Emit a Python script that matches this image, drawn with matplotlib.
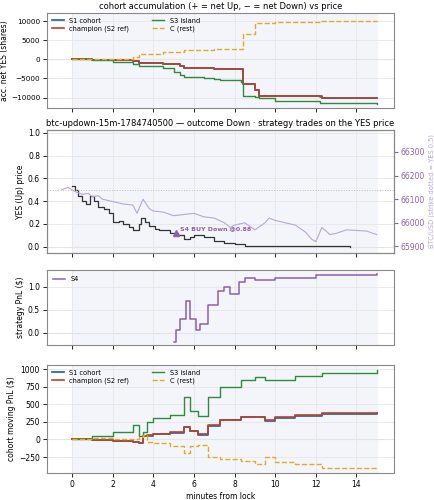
import matplotlib
matplotlib.use("Agg")
import matplotlib.pyplot as plt

# ---- data ----
acc_t = [0, 1, 2, 3, 3.3, 4.5, 5.0, 5.3, 5.5, 6.5, 7.0, 7.3, 8.3, 8.4, 9.0, 9.2, 10.0, 12.0, 12.2, 12.3, 15.0]
acc_champ = [0, -100, -200, -400, -1000, -1100, -1100, -1800, -2200, -2300, -2400, -2500, -2600, -6500, -8000, -9500, -9500, -9600, -9700, -10000, -10000]
acc_s1 = [0, -100, -200, -400, -1000, -1100, -1100, -1800, -2200, -2300, -2400, -2500, -2600, -6500, -8000, -9500, -9500, -9500, -9500, -10000, -10000]
acc_s3 = [0, -100, -600, -1200, -1700, -2200, -3200, -4000, -4700, -5000, -5200, -5500, -5800, -9500, -9800, -10000, -10800, -11000, -11500, -11500, -11700]
acc_c = [0, 0, 0, 500, 1500, 1800, 2000, 2000, 2500, 2500, 2600, 2700, 2700, 6700, 9600, 9600, 9700, 9700, 10000, 10000, 10000]

yes_t = [0, 0.15, 0.3, 0.5, 0.7, 0.9, 1.1, 1.3, 1.6, 1.8, 2.0, 2.3, 2.5, 2.8, 3.0, 3.3, 3.4, 3.6, 3.8, 4.1, 4.3, 4.8, 5.2, 5.5, 5.8, 6.0, 6.5, 7.0, 7.5, 8.0, 8.5, 10.0, 13.7]
yes_p = [0.53, 0.5, 0.45, 0.4, 0.38, 0.45, 0.4, 0.35, 0.33, 0.3, 0.22, 0.23, 0.2, 0.17, 0.15, 0.2, 0.25, 0.22, 0.18, 0.16, 0.15, 0.12, 0.1, 0.07, 0.09, 0.1, 0.09, 0.05, 0.03, 0.02, 0.01, 0.01, 0.0]

btc_t = [-0.5, -0.2, 0.2, 0.5, 0.8, 1.0, 1.3, 1.5, 2.0, 2.5, 3.0, 3.2, 3.5, 3.8, 4.0, 4.5, 5.0, 5.5, 6.0, 6.5, 7.0, 7.5, 7.8, 8.0, 8.5, 9.0, 9.5, 9.7, 10.0, 10.5, 11.0, 11.5, 11.8, 12.0, 12.3, 12.7, 13.0, 13.5, 14.5, 15.0]
btc_p = [66140, 66150, 66130, 66120, 66125, 66110, 66115, 66100, 66090, 66080, 66075, 66040, 66100, 66060, 66050, 66045, 66030, 66035, 66040, 66025, 66020, 66000, 65980, 65990, 66000, 65970, 66000, 66020, 66010, 66000, 65990, 65960, 65930, 65920, 65980, 65950, 65955, 65970, 65965, 65950]

s4_t = [5.0, 5.1, 5.3, 5.6, 5.8, 6.1, 6.3, 6.7, 7.2, 7.5, 7.8, 8.2, 8.5, 9.0, 10.0, 12.0, 15.0]
s4_p = [-0.2, 0.05, 0.3, 0.7, 0.3, 0.05, 0.2, 0.6, 0.9, 1.0, 0.85, 1.1, 1.2, 1.15, 1.2, 1.25, 1.28]

pnl_t = [0, 1, 2, 3, 3.3, 3.5, 3.7, 4.0, 4.8, 5.5, 5.8, 6.2, 6.7, 7.3, 8.3, 9.0, 9.5, 10.0, 11.0, 12.3, 15.0]
pnl_s3 = [0, 50, 100, 200, 50, 100, 250, 300, 350, 600, 400, 330, 600, 750, 850, 880, 850, 850, 900, 950, 980]
pnl_champ = [0, -10, -20, -30, -50, 50, 60, 80, 100, 180, 120, 70, 200, 280, 320, 320, 270, 320, 340, 370, 380]
pnl_s1 = [0, -10, -20, -30, -55, 45, 55, 75, 95, 175, 115, 65, 195, 275, 315, 315, 265, 310, 335, 365, 375]
pnl_c = [0, 20, 10, 0, 30, 60, -30, -50, -100, -200, -100, -80, -250, -280, -300, -350, -250, -320, -350, -400, -410]

strike_yes = 0.5
trade_t, trade_p = 5.1, 0.12

# ---- style ----
cS1, cCh, cS3, cC, cS4, cBTC = "#2459a8", "#b5452a", "#2e8b3e", "#e3a92a", "#8c5fb0", "#b9a6d6"
plt.rcParams.update({"font.size": 5.5, "axes.edgecolor": "#888888", "axes.linewidth": 0.8})
FS = 5.5

fig = plt.figure(figsize=(4.34, 5.0), dpi=100)
L, W = 47/434, 347/434
def ax_at(top, bot):
    return fig.add_axes([L, 1-bot/500, W, (bot-top)/500])
ax1 = ax_at(13, 108); ax2 = ax_at(130, 253); ax3 = ax_at(270, 345); ax4 = ax_at(365, 473)
for a in (ax1, ax2, ax3, ax4):
    a.set_xlim(-1.23, 15.85)
    a.axvspan(0, 15, color="#f3f5fb", zorder=0)
    a.grid(True, color="#e6e6e6", lw=0.6)
    a.set_axisbelow(True)
    a.axhline(0, color="#dddddd", lw=0.8, zorder=0.5)
    a.set_xticks(range(0, 15, 2))
    if a is not ax4:
        a.tick_params(labelbottom=False)
    a.tick_params(length=3, width=0.6, labelsize=FS, pad=2)

# panel 1
ax1.step(acc_t, acc_s1, where="post", color=cS1, lw=1.2, label="S1 cohort")
ax1.step(acc_t, acc_champ, where="post", color=cCh, lw=1.2, label="champion (S2 ref)")
ax1.step(acc_t, acc_s3, where="post", color=cS3, lw=1.0, label="S3 island")
ax1.step(acc_t, acc_c, where="post", color=cC, lw=1.0, ls="--", label="C (rest)")
ax1.set_ylim(-12700, 12090)
ax1.set_yticks([-10000, -5000, 0, 5000, 10000])
ax1.tick_params(axis="y", labelsize=5.2)
ax1.set_ylabel("acc. net YES (shares)", fontsize=FS)
ax1.yaxis.set_label_coords(-0.11, 0.5)
ax1.set_title("cohort accumulation (+ = net Up, − = net Down) vs price", fontsize=6, pad=3)
ax1.legend(loc="upper left", ncol=2, fontsize=4.8, frameon=False, handlelength=1.8, columnspacing=3.5, borderaxespad=0.3, labelspacing=0.3)

# panel 2
ax2.step(yes_t, yes_p, where="post", color="#333333", lw=0.9)
ax2.axhline(strike_yes, color="#bbbbbb", lw=0.7, ls=":")
ax2.set_ylim(-0.055, 1.026)
ax2.set_ylabel("YES (Up) price", fontsize=FS, labelpad=2)
ax2.set_title("btc-updown-15m-1784740500 — outcome Down · strategy trades on the YES price", fontsize=6, pad=3)
ax2.plot([trade_t], [trade_p], marker="^", color=cS4, ms=5, ls="none")
ax2.annotate("S4 BUY Down @0.88", (trade_t, trade_p), xytext=(3, 2), textcoords="offset points",
             color=cS4, fontsize=4.5, fontweight="bold")
ax2b = ax2.twinx()
ax2b.plot(btc_t, btc_p, color=cBTC, lw=0.8)
ax2b.set_ylim(65872, 66393)
ax2b.set_yticks([65900, 66000, 66100, 66200, 66300])
ax2b.tick_params(colors=cS4, labelsize=FS, length=3, pad=2)
ax2b.set_ylabel("BTC/USD (strike dotted = YES 0.5)", color=cBTC, fontsize=4.8, labelpad=2)

# panel 3
ax3.step(s4_t, s4_p, where="post", color=cS4, lw=1.1, label="S4")
ax3.set_ylim(-0.27, 1.37)
ax3.set_yticks([0.0, 0.5, 1.0])
ax3.set_ylabel("strategy PnL ($)", fontsize=FS, labelpad=2)
ax3.legend(loc="upper left", fontsize=4.8, frameon=False, handlelength=1.8)

# panel 4
ax4.step(pnl_t, pnl_s1, where="post", color=cS1, lw=1.2, label="S1 cohort")
ax4.step(pnl_t, pnl_champ, where="post", color=cCh, lw=1.2, label="champion (S2 ref)")
ax4.step(pnl_t, pnl_s3, where="post", color=cS3, lw=1.0, label="S3 island")
ax4.step(pnl_t, pnl_c, where="post", color=cC, lw=1.0, ls="--", label="C (rest)")
ax4.set_ylim(-477, 1057)
ax4.set_yticks([-250, 0, 250, 500, 750, 1000])
ax4.set_ylabel("cohort moving PnL ($)", fontsize=FS, labelpad=2)
ax4.set_xlabel("minutes from lock", fontsize=FS, labelpad=2)
ax4.legend(loc="upper left", ncol=2, fontsize=4.8, frameon=False, handlelength=1.8, columnspacing=3.5, borderaxespad=0.3, labelspacing=0.3)

fig.savefig("out.png", dpi=100)
